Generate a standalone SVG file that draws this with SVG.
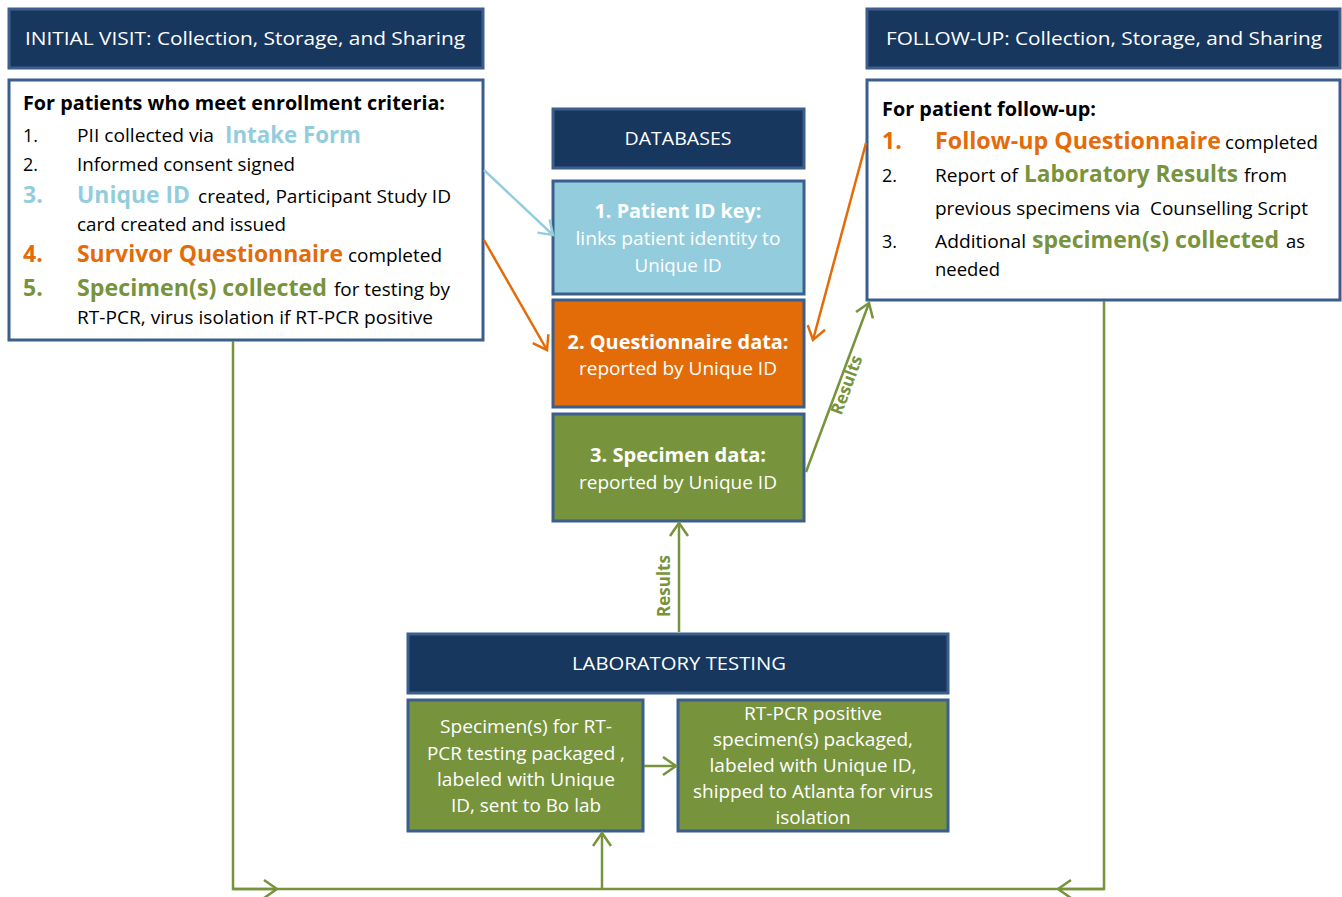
<svg xmlns="http://www.w3.org/2000/svg" width="1342" height="897" viewBox="0 0 1342 897">
<style>
text{font-family:"Open Sans","Noto Sans","Liberation Sans",sans-serif;}
.hdr{fill:#17375e;stroke:#3b5e8c;stroke-width:3;}
.box{fill:#ffffff;stroke:#3b5e8c;stroke-width:3;}
.db{stroke:#3b5e8c;stroke-width:3;}
.wt{fill:#ffffff;font-size:19px;}
.wc{fill:#ffffff;font-size:18px;text-anchor:middle;}
.wb{fill:#ffffff;font-size:19px;font-weight:bold;text-anchor:middle;}
.k{fill:#000000;font-size:18px;}
.kb{fill:#000000;font-size:19px;font-weight:bold;}
.bl{fill:#93cddd;font-weight:bold;font-size:23px;}
.or{fill:#e36c09;font-weight:bold;font-size:23px;}
.gr{fill:#77933c;font-weight:bold;font-size:23px;}
.ln{fill:none;stroke-width:2.5;}
.lbl{fill:#77933c;font-size:17px;font-weight:bold;text-anchor:middle;}
</style>
<defs>
<marker id="mB" markerUnits="userSpaceOnUse" markerWidth="18" markerHeight="22" refX="15" refY="11" orient="auto"><path d="M2,2 L15,11 L2,20" fill="none" stroke="#93cddd" stroke-width="2.5"/></marker>
<marker id="mO" markerUnits="userSpaceOnUse" markerWidth="18" markerHeight="22" refX="15" refY="11" orient="auto"><path d="M2,2 L15,11 L2,20" fill="none" stroke="#e36c09" stroke-width="2.5"/></marker>
<marker id="mG" markerUnits="userSpaceOnUse" markerWidth="18" markerHeight="22" refX="15" refY="11" orient="auto"><path d="M2,2 L15,11 L2,20" fill="none" stroke="#77933c" stroke-width="2.5"/></marker>
</defs>
<rect width="1342" height="897" fill="#ffffff"/>

<g id="initial-header">
<rect class="hdr" x="9" y="9" width="474" height="59"/>
<text class="wt" x="25" y="45" textLength="440" lengthAdjust="spacingAndGlyphs">INITIAL VISIT: Collection, Storage, and Sharing</text>
</g>

<g id="initial-box">
<rect class="box" x="9" y="80" width="474" height="260"/>
<text class="kb" x="23" y="110" textLength="422" lengthAdjust="spacingAndGlyphs">For patients who meet enrollment criteria:</text>
<text class="k" x="23" y="142">1.</text>
<text class="k" x="77" y="142" textLength="137" lengthAdjust="spacingAndGlyphs">PII collected via</text>
<text class="bl" x="225" y="143" textLength="136" lengthAdjust="spacingAndGlyphs">Intake Form</text>
<text class="k" x="23" y="171">2.</text>
<text class="k" x="77" y="171" textLength="218" lengthAdjust="spacingAndGlyphs">Informed consent signed</text>
<text class="bl" x="23" y="203">3.</text>
<text class="bl" x="77" y="203" textLength="113" lengthAdjust="spacingAndGlyphs">Unique ID</text>
<text class="k" x="198" y="203" textLength="253" lengthAdjust="spacingAndGlyphs">created, Participant Study ID</text>
<text class="k" x="77" y="231" textLength="209" lengthAdjust="spacingAndGlyphs">card created and issued</text>
<text class="or" x="23" y="262">4.</text>
<text class="or" x="77" y="262" textLength="266" lengthAdjust="spacingAndGlyphs">Survivor Questionnaire</text>
<text class="k" x="348" y="262" textLength="94" lengthAdjust="spacingAndGlyphs">completed</text>
<text class="gr" x="23" y="296">5.</text>
<text class="gr" x="77" y="296" textLength="250" lengthAdjust="spacingAndGlyphs">Specimen(s) collected</text>
<text class="k" x="334" y="296" textLength="116" lengthAdjust="spacingAndGlyphs">for testing by</text>
<text class="k" x="77" y="324" textLength="356" lengthAdjust="spacingAndGlyphs">RT-PCR, virus isolation if RT-PCR positive</text>
</g>

<g id="followup-header">
<rect class="hdr" x="867" y="9" width="473" height="59"/>
<text class="wt" x="886" y="45" textLength="436" lengthAdjust="spacingAndGlyphs">FOLLOW-UP: Collection, Storage, and Sharing</text>
</g>

<g id="followup-box">
<rect class="box" x="867" y="80" width="473" height="220"/>
<text class="kb" x="882" y="116" textLength="214" lengthAdjust="spacingAndGlyphs">For patient follow-up:</text>
<text class="or" x="882" y="149">1.</text>
<text class="or" x="935" y="149" textLength="286" lengthAdjust="spacingAndGlyphs">Follow-up Questionnaire</text>
<text class="k" x="1225" y="149" textLength="93" lengthAdjust="spacingAndGlyphs">completed</text>
<text class="k" x="882" y="182">2.</text>
<text class="k" x="935" y="182" textLength="83" lengthAdjust="spacingAndGlyphs">Report of</text>
<text class="gr" x="1024" y="182" textLength="214" lengthAdjust="spacingAndGlyphs">Laboratory Results</text>
<text class="k" x="1244" y="182" textLength="43" lengthAdjust="spacingAndGlyphs">from</text>
<text class="k" x="935" y="215" textLength="373" lengthAdjust="spacingAndGlyphs">previous specimens via &#160;Counselling Script</text>
<text class="k" x="882" y="248">3.</text>
<text class="k" x="935" y="248" textLength="91" lengthAdjust="spacingAndGlyphs">Additional</text>
<text class="gr" x="1032" y="248" textLength="247" lengthAdjust="spacingAndGlyphs">specimen(s) collected</text>
<text class="k" x="1286" y="248" textLength="19" lengthAdjust="spacingAndGlyphs">as</text>
<text class="k" x="935" y="276" textLength="65" lengthAdjust="spacingAndGlyphs">needed</text>
</g>

<g id="databases">
<rect class="hdr" x="553" y="109" width="251" height="59"/>
<text class="wc" x="678" y="145" textLength="107" lengthAdjust="spacingAndGlyphs">DATABASES</text>
</g>

<g id="db-patient-id">
<rect class="db" x="553" y="181" width="251" height="113" fill="#93cddd"/>
<text class="wb" x="678" y="218" textLength="167" lengthAdjust="spacingAndGlyphs">1. Patient ID key:</text>
<text class="wc" x="678" y="245" textLength="205" lengthAdjust="spacingAndGlyphs">links patient identity to</text>
<text class="wc" x="678" y="272" textLength="87" lengthAdjust="spacingAndGlyphs">Unique ID</text>
</g>

<g id="db-questionnaire">
<rect class="db" x="553" y="300" width="251" height="107" fill="#e36c09"/>
<text class="wb" x="678" y="349" textLength="221" lengthAdjust="spacingAndGlyphs">2. Questionnaire data:</text>
<text class="wc" x="678" y="375" textLength="198" lengthAdjust="spacingAndGlyphs">reported by Unique ID</text>
</g>

<g id="db-specimen">
<rect class="db" x="553" y="414" width="251" height="107" fill="#77933c"/>
<text class="wb" x="678" y="462" textLength="176" lengthAdjust="spacingAndGlyphs">3. Specimen data:</text>
<text class="wc" x="678" y="489" textLength="198" lengthAdjust="spacingAndGlyphs">reported by Unique ID</text>
</g>

<g id="lab-header">
<rect class="hdr" x="408" y="634" width="540" height="59"/>
<text class="wc" x="679" y="670" textLength="214" lengthAdjust="spacingAndGlyphs">LABORATORY TESTING</text>
</g>

<g id="lab-rtpcr">
<rect class="db" x="408" y="700" width="235" height="131" fill="#77933c"/>
<text class="wc" x="526" y="733" textLength="172" lengthAdjust="spacingAndGlyphs">Specimen(s) for RT-</text>
<text class="wc" x="526" y="760" textLength="198" lengthAdjust="spacingAndGlyphs">PCR testing packaged ,</text>
<text class="wc" x="526" y="786" textLength="178" lengthAdjust="spacingAndGlyphs">labeled with Unique</text>
<text class="wc" x="526" y="812" textLength="150" lengthAdjust="spacingAndGlyphs">ID, sent to Bo lab</text>
</g>

<g id="lab-atlanta">
<rect class="db" x="678" y="700" width="270" height="131" fill="#77933c"/>
<text class="wc" x="813" y="720" textLength="138" lengthAdjust="spacingAndGlyphs">RT-PCR positive</text>
<text class="wc" x="813" y="746" textLength="200" lengthAdjust="spacingAndGlyphs">specimen(s) packaged,</text>
<text class="wc" x="813" y="772" textLength="207" lengthAdjust="spacingAndGlyphs">labeled with Unique ID,</text>
<text class="wc" x="813" y="798" textLength="240" lengthAdjust="spacingAndGlyphs">shipped to Atlanta for virus</text>
<text class="wc" x="813" y="824" textLength="75" lengthAdjust="spacingAndGlyphs">isolation</text>
</g>

<g id="connectors">
<path class="ln" stroke="#93cddd" d="M484,170 L553,235" marker-end="url(#mB)"/>
<path class="ln" stroke="#e36c09" d="M484,240 L547,350" marker-end="url(#mO)"/>
<path class="ln" stroke="#e36c09" d="M866,143 L813,340" marker-end="url(#mO)"/>
<path class="ln" stroke="#77933c" d="M806,472 L869,303" marker-end="url(#mG)"/>
<text class="lbl" transform="translate(852,387) rotate(-69.7)">Results</text>
<path class="ln" stroke="#77933c" d="M679,632 L679,523" marker-end="url(#mG)"/>
<text class="lbl" transform="translate(670,586) rotate(-90)">Results</text>
<path class="ln" stroke="#77933c" d="M644,766 L676,766" marker-end="url(#mG)"/>
<path class="ln" stroke="#77933c" d="M233,341 L233,889 L1104,889 L1104,301"/>
<path class="ln" stroke="#77933c" d="M233,889 L277,889" marker-end="url(#mG)"/>
<path class="ln" stroke="#77933c" d="M1104,889 L1058,889" marker-end="url(#mG)"/>
<path class="ln" stroke="#77933c" d="M602,889 L602,833" marker-end="url(#mG)"/>
</g>
</svg>
